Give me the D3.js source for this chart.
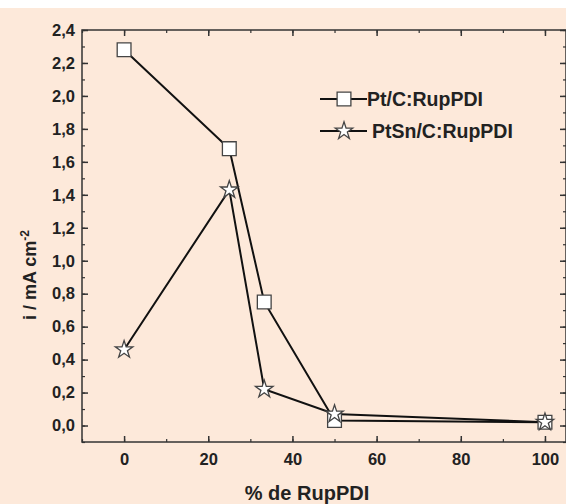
<!DOCTYPE html>
<html>
<head>
<meta charset="utf-8">
<script src="https://cdn.jsdelivr.net/npm/d3@7"></script>
<style>
  html, body { margin: 0; padding: 0; background: #fff; }
  svg { display: block; }
  text { font-family: "Liberation Sans", Arial, sans-serif; font-weight: bold; fill: #222; }
</style>
</head>
<body>
<div id="chart"></div>
<script>
// data
const percent = [0, 25, 33.3, 50, 100];
const ptC = [2.28, 1.68, 0.75, 0.03, 0.02];
const ptSnC = [0.46, 1.43, 0.22, 0.07, 0.02];
const seriesNames = ['Pt/C:RupPDI', 'PtSn/C:RupPDI'];
const xTicks = [0, 20, 40, 60, 80, 100];
const yTicks = [0, 0.2, 0.4, 0.6, 0.8, 1.0, 1.2, 1.4, 1.6, 1.8, 2.0, 2.2, 2.4];

const W = 566, H = 504;
const margin = { top: 30, right: 0, bottom: 62, left: 82 };
const iw = W - margin.left - margin.right;
const ih = H - margin.top - margin.bottom;

const svg = d3.select('#chart').append('svg').attr('width', W).attr('height', H);
svg.append('rect').attr('x', 0).attr('y', 8).attr('width', W).attr('height', H - 8).attr('fill', '#fde9da');

const g = svg.append('g').attr('transform', `translate(${margin.left},${margin.top})`);

const x = d3.scaleLinear().domain([-10, 105]).range([0, iw]);
const y = d3.scaleLinear().domain([-0.1, 2.4]).range([ih, 0]);

const fmt = d => d3.format('.1f')(d).replace('.', ',');
const minorX = d3.range(-10, 106, 10);
const minorY = d3.range(-0.1, 2.41, 0.1).map(v => Math.round(v * 10) / 10);

// axes with inward ticks
function tickAxis(axis, tf, minor, major, fmtFn, showLabels) {
  const a = g.append('g').attr('transform', tf);
  a.call(axis(major.scale).tickValues(major.values).tickSizeInner(-6).tickSizeOuter(0)
    .tickFormat(showLabels ? fmtFn : ''));
  a.select('.domain').remove();
  a.selectAll('.tick line').attr('stroke', '#333').attr('stroke-width', 1.5);
  a.selectAll('.tick text').attr('font-size', 16.5).attr('fill', '#222');
  const m = g.append('g').attr('transform', tf);
  m.call(axis(major.scale).tickValues(minor).tickSizeInner(-3).tickSizeOuter(0).tickFormat(''));
  m.select('.domain').remove();
  m.selectAll('.tick line').attr('stroke', '#333').attr('stroke-width', 1.2);
  return a;
}

const bx = tickAxis(d3.axisBottom, `translate(0,${ih})`, minorX, { scale: x, values: xTicks }, d3.format('d'), true);
bx.selectAll('.tick text').attr('y', 23).attr('dy', 0);
tickAxis(d3.axisTop, 'translate(0,0)', minorX, { scale: x, values: xTicks }, null, false);
const ly = tickAxis(d3.axisLeft, 'translate(0,0)', minorY, { scale: y, values: yTicks }, fmt, true);
ly.selectAll('.tick text').attr('x', -7);
tickAxis(d3.axisRight, `translate(${iw},0)`, minorY, { scale: y, values: yTicks }, null, false);

g.append('rect').attr('width', iw).attr('height', ih)
  .attr('fill', 'none').attr('stroke', '#333').attr('stroke-width', 1.5);

// lines
const line = d3.line().x(d => x(d[0])).y(d => y(d[1]));
const ptData = percent.map((p, i) => [p, ptC[i]]);
const snData = percent.map((p, i) => [p, ptSnC[i]]);
[ptData, snData].forEach(d => {
  g.append('path').datum(d).attr('d', line)
    .attr('fill', 'none').attr('stroke', '#111').attr('stroke-width', 2);
});

const square = d3.symbol().type(d3.symbolSquare).size(190);
const star = d3.symbol().type(d3.symbolStar).size(95);

function drawMarkers(data, sym) {
  g.selectAll(null).data(data).enter().append('path')
    .attr('d', sym)
    .attr('transform', d => `translate(${x(d[0])},${y(d[1])})`)
    .attr('fill', '#fff').attr('stroke', '#444').attr('stroke-width', 1.3);
}
drawMarkers(ptData, square);
drawMarkers(snData, star);

// legend
const legend = svg.append('g');
const rows = [{ name: seriesNames[0], sym: square, y: 99, tx: 367 }, { name: seriesNames[1], sym: star, y: 131, tx: 372 }];
rows.forEach(r => {
  legend.append('line').attr('x1', 320).attr('x2', 367).attr('y1', r.y).attr('y2', r.y)
    .attr('stroke', '#111').attr('stroke-width', 2);
  legend.append('path').attr('d', r.sym).attr('transform', `translate(344,${r.y})`)
    .attr('fill', '#fff').attr('stroke', '#444').attr('stroke-width', 1.3);
  legend.append('text').attr('x', r.tx).attr('y', r.y).attr('dy', '0.36em')
    .attr('font-size', 19.5).text(r.name);
});

// axis titles
svg.append('text').attr('x', 307).attr('y', 500)
  .attr('text-anchor', 'middle').attr('font-size', 20).text('% de RupPDI');

const yt = svg.append('text').attr('transform', `translate(36,275) rotate(-90)`)
  .attr('text-anchor', 'middle').attr('font-size', 18);
yt.append('tspan').text('i / mA cm');
yt.append('tspan').attr('font-size', 12).attr('dy', '-0.6em').text('-2');
</script>
</body>
</html>
